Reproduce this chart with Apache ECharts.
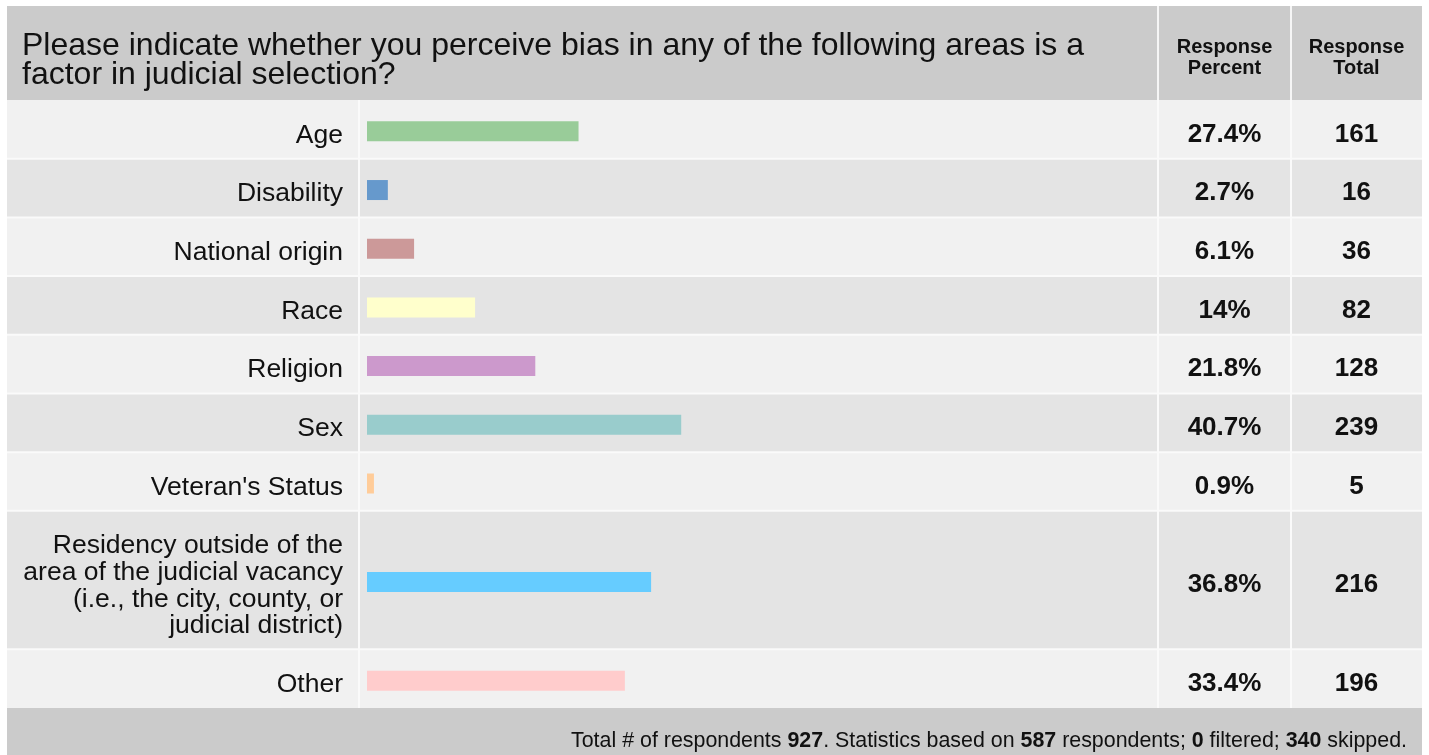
<!DOCTYPE html>
<html><head><meta charset="utf-8">
<script src="https://cdn.jsdelivr.net/npm/echarts@6/dist/echarts.min.js"></script>
<style>html,body{margin:0;padding:0;background:#fff}#c{width:1429px;height:755px}</style>
</head><body><div id="c"></div>
<script>
// ---- data ----
const categories = [
  'Age',
  'Disability',
  'National origin',
  'Race',
  'Religion',
  'Sex',
  "Veteran's Status",
  'Residency outside of the\narea of the judicial vacancy\n(i.e., the city, county, or\njudicial district)',
  'Other'
];
const percents = [27.4, 2.7, 6.1, 14, 21.8, 40.7, 0.9, 36.8, 33.4];
const totals = [161, 16, 36, 82, 128, 239, 5, 216, 196];
const titleText = 'Please indicate whether you perceive bias in any of the following areas is a\nfactor in judicial selection?';
const headerPercent = 'Response\nPercent';
const headerTotal = 'Response\nTotal';
const totalRespondents = 927, answeredCount = 587, filteredCount = 0, skippedCount = 340;

// ---- styles ----
const barColors = ['#99cc99', '#6699cc', '#cc9999', '#ffffcc', '#cc99cc', '#99cccc', '#ffcc99', '#66ccff', '#ffcccc'];
const FONT = "'Liberation Sans', Arial, Helvetica, sans-serif";
const L = {left: 7, right: 1422, top: 6, headBottom: 100, tableBottom: 708, bottom: 755,
  labelEnd: 359, pctStart: 1158, totStart: 1291, barStart: 367, barFull: 772};

// row extents in layout units (one text line adds 26.5, padding 32)
const rowStarts = [], rowEnds = [];
let acc = 0;
categories.forEach(c => {
  const lines = c.split('\n').length;
  rowStarts.push(acc);
  acc += 32 + 26.5 * lines;
  rowEnds.push(acc);
});
const totalUnits = acc;

const seriesData = percents.map((p, i) => [p, rowStarts[i], rowEnds[i], totals[i]]);

const chart = echarts.init(document.getElementById('c'), null, {renderer: 'canvas'});
chart.setOption({
  animation: false,
  backgroundColor: '#ffffff',
  grid: {left: L.barStart, width: L.barFull, top: L.headBottom, height: L.tableBottom - L.headBottom},
  xAxis: {type: 'value', min: 0, max: 100, show: false},
  yAxis: {type: 'value', min: 0, max: totalUnits, inverse: true, show: false},
  graphic: [
    {type: 'rect', shape: {x: L.left, y: L.top, width: L.right - L.left, height: L.headBottom - L.top}, style: {fill: '#cbcbcb'}, z: 1},
    {type: 'rect', shape: {x: L.pctStart - 1, y: L.top, width: 2, height: L.headBottom - L.top}, style: {fill: '#f6f6f6'}, z: 2},
    {type: 'rect', shape: {x: L.totStart - 1, y: L.top, width: 2, height: L.headBottom - L.top}, style: {fill: '#f6f6f6'}, z: 2},
    {type: 'text', x: 22, y: 61, z: 3, style: {text: titleText, font: '32px ' + FONT, fill: '#111', lineHeight: 29, verticalAlign: 'middle', textAlign: 'left'}},
    {type: 'text', x: (L.pctStart + L.totStart) / 2, y: 58, z: 3, style: {text: headerPercent, font: 'bold 20px ' + FONT, fill: '#111', lineHeight: 21, verticalAlign: 'middle', textAlign: 'center'}},
    {type: 'text', x: (L.totStart + L.right) / 2, y: 58, z: 3, style: {text: headerTotal, font: 'bold 20px ' + FONT, fill: '#111', lineHeight: 21, verticalAlign: 'middle', textAlign: 'center'}},
    {type: 'rect', shape: {x: L.left, y: L.tableBottom, width: L.right - L.left, height: L.bottom - L.tableBottom}, style: {fill: '#cbcbcb'}, z: 1},
    {type: 'text', x: 1407, y: 741, z: 3, style: {
      text: '{n|Total # of respondents }{b|' + totalRespondents + '}{n|. Statistics based on }{b|' + answeredCount + '}{n| respondents; }{b|' + filteredCount + '}{n| filtered; }{b|' + skippedCount + '}{n| skipped.}',
      textAlign: 'right', verticalAlign: 'middle',
      rich: {n: {font: '21.4px ' + FONT, fill: '#111'}, b: {font: 'bold 21.4px ' + FONT, fill: '#111'}}
    }}
  ],
  series: [{
    type: 'custom',
    clip: false,
    data: seriesData,
    renderItem: function (params, api) {
      const i = params.dataIndex;
      const pct = api.value(0), y0 = api.value(1), y1 = api.value(2), tot = api.value(3);
      const top = api.coord([0, y0])[1];
      const bot = api.coord([0, y1])[1];
      const x0 = api.coord([0, y0])[0];
      const xEnd = api.coord([pct, y0])[0];
      const mid = (top + bot) / 2;
      const bg = i % 2 === 0 ? '#f1f1f1' : '#e4e4e4';
      const children = [
        {type: 'rect', shape: {x: L.left, y: top, width: L.right - L.left, height: bot - top}, style: {fill: bg}},
        {type: 'rect', shape: {x: L.labelEnd - 1, y: top, width: 2, height: bot - top}, style: {fill: '#fafafa'}},
        {type: 'rect', shape: {x: L.pctStart - 1, y: top, width: 2, height: bot - top}, style: {fill: '#fafafa'}},
        {type: 'rect', shape: {x: L.totStart - 1, y: top, width: 2, height: bot - top}, style: {fill: '#fafafa'}},
        {type: 'rect', shape: {x: x0, y: mid - 8, width: xEnd - x0, height: 20}, style: {fill: barColors[i]}},
        {type: 'text', x: L.labelEnd - 16, y: mid + 6, style: {text: categories[i], font: '26.5px ' + FONT, fill: '#111', lineHeight: 26.7, textAlign: 'right', verticalAlign: 'middle'}},
        {type: 'text', x: (L.pctStart + L.totStart) / 2, y: mid + 5, style: {text: pct + '%', font: 'bold 26px ' + FONT, fill: '#111', textAlign: 'center', verticalAlign: 'middle'}},
        {type: 'text', x: (L.totStart + L.right) / 2, y: mid + 5, style: {text: String(tot), font: 'bold 26px ' + FONT, fill: '#111', textAlign: 'center', verticalAlign: 'middle'}}
      ];
      if (i > 0) {
        children.push({type: 'rect', shape: {x: L.left, y: top - 1, width: L.right - L.left, height: 2}, style: {fill: '#fafafa'}});
      }
      return {type: 'group', children: children};
    }
  }]
});
</script>
</body></html>
